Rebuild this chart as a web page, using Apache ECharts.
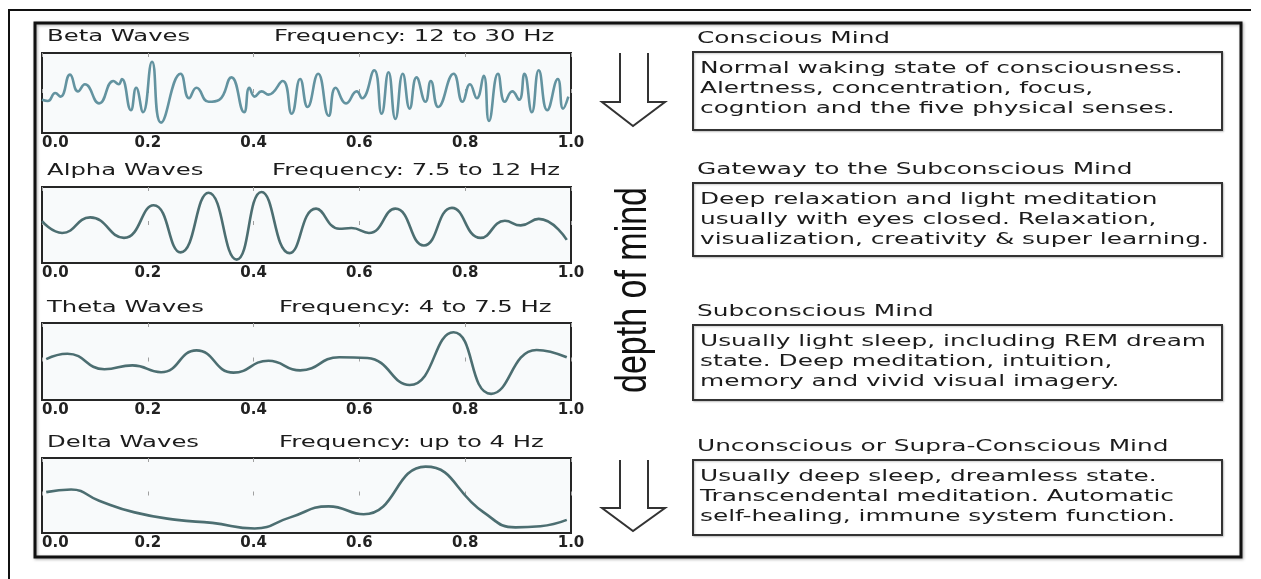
<!DOCTYPE html>
<html><head><meta charset="utf-8">
<script src="https://cdn.jsdelivr.net/npm/echarts@6/dist/echarts.min.js"></script>
<style>html,body{margin:0;padding:0;background:#fff}#c{width:1261px;height:579px}</style>
</head><body><div id="c"></div>
<script>
// ---- data ----
const xTickLabels = ['0.0', '0.2', '0.4', '0.6', '0.8', '1.0'];
const waveNames = ['Beta Waves', 'Alpha Waves', 'Theta Waves', 'Delta Waves'];
const waveFrequencies = ['Frequency: 12 to 30 Hz', 'Frequency: 7.5 to 12 Hz', 'Frequency: 4 to 7.5 Hz', 'Frequency: up to 4 Hz'];
const mindTitles = ['Conscious Mind', 'Gateway to the Subconscious Mind', 'Subconscious Mind', 'Unconscious or Supra-Conscious Mind'];
const mindDescriptions = [
  ['Normal waking state of consciousness.', 'Alertness, concentration, focus,', 'cogntion and the five physical senses.'],
  ['Deep relaxation and light meditation', 'usually with eyes closed. Relaxation,', 'visualization, creativity & super learning.'],
  ['Usually light sleep, including REM dream', 'state. Deep meditation, intuition,', 'memory and vivid visual imagery.'],
  ['Usually deep sleep, dreamless state.', 'Transcendental meditation. Automatic', 'self-healing, immune system function.']
];
const sideLabel = 'depth of mind';

const betaWave = [
  [0.000,-0.17],[0.011,-0.20],[0.025,0.00],[0.035,-0.09],[0.053,0.46],[0.068,0.04],[0.081,0.22],
  [0.108,-0.26],[0.135,0.30],[0.145,0.22],[0.151,0.35],[0.168,-0.43],[0.178,0.13],[0.191,-0.48],
  [0.208,0.78],[0.225,-0.74],[0.262,0.48],[0.278,-0.13],[0.292,0.13],[0.315,-0.22],[0.335,-0.17],
  [0.358,0.39],[0.382,-0.48],[0.392,0.13],[0.402,-0.09],[0.415,0.04],[0.428,-0.04],[0.455,0.30],
  [0.472,-0.52],[0.488,0.35],[0.502,-0.35],[0.522,0.48],[0.542,-0.57],[0.555,0.13],[0.575,-0.26],
  [0.595,0.04],[0.605,-0.13],[0.628,0.57],[0.642,-0.52],[0.655,0.52],[0.668,-0.65],[0.682,0.48],
  [0.695,-0.39],[0.708,0.39],[0.725,-0.22],[0.735,0.30],[0.749,-0.35],[0.778,0.48],[0.795,-0.22],
  [0.809,0.22],[0.822,-0.13],[0.835,0.43],[0.845,-0.70],[0.862,0.48],[0.875,-0.22],[0.889,0.04],
  [0.902,-0.17],[0.912,0.48],[0.926,-0.48],[0.939,0.57],[0.955,-0.43],[0.975,0.35],[0.985,-0.39],
  [0.995,-0.09]
];
const alphaWave = [
  [0.000,0.10],[0.038,-0.21],[0.091,0.20],[0.155,-0.34],[0.211,0.52],[0.262,-0.72],[0.315,0.85],
  [0.368,-0.91],[0.415,0.87],[0.468,-0.74],[0.518,0.43],[0.562,-0.10],[0.585,-0.08],[0.618,-0.21],
  [0.668,0.43],[0.722,-0.54],[0.775,0.45],[0.829,-0.34],[0.875,0.11],[0.905,-0.01],[0.939,0.16],
  [0.992,-0.39]
];
const thetaWave = [
  [0.008,0.06],[0.048,0.20],[0.118,-0.20],[0.171,-0.10],[0.225,-0.28],[0.292,0.29],[0.362,-0.29],
  [0.428,0.02],[0.488,-0.23],[0.562,0.11],[0.615,0.09],[0.695,-0.61],[0.778,0.76],[0.849,-0.84],
  [0.935,0.30],[0.992,0.11]
];
const deltaWave = [
  [0.008,0.09],[0.055,0.16],[0.108,-0.14],[0.175,-0.45],[0.255,-0.65],[0.322,-0.73],[0.402,-0.88],
  [0.468,-0.59],[0.542,-0.29],[0.608,-0.50],[0.725,0.77],[0.835,-0.45],
  [0.895,-0.85],[0.942,-0.82],[0.992,-0.65]
];
const waves = [betaWave, alphaWave, thetaWave, deltaWave];

// ---- layout ----
const plotBoxes = [ {top:53, h:80}, {top:187, h:76}, {top:323, h:77}, {top:458, h:75} ];
const titleY = [37, 171, 308, 443];
const freqX = [274, 272, 279, 279];
const textBoxes = [ {top:52, h:78}, {top:183, h:73}, {top:325, h:75}, {top:460, h:75} ];
const lineColors = ['#6393a0', '#4c6e71', '#4c6e71', '#4c6e71'];
const SX = 1.52, SXR = 1.55;
const FONT = 'DejaVu Sans, Verdana, sans-serif';
const TXT = '#1c1c1c';

const grids = [], xAxes = [], yAxes = [], series = [];
plotBoxes.forEach((b, i) => {
  grids.push({left:42, top:b.top, width:529, height:b.h, show:true, borderColor:'#262626', borderWidth:2, backgroundColor:'#f8fafb'});
  yAxes.push({gridIndex:i, type:'value', min:-1, max:1, show:false});
});
plotBoxes.forEach((b, i) => {
  xAxes.push({gridIndex:i, type:'value', min:0, max:1, interval:0.2, position:'bottom',
    axisLine:{show:false}, splitLine:{show:false},
    axisTick:{show:true, inside:true, length:4, lineStyle:{color:'#a0a0a0', width:1}},
    axisLabel:{margin:3, fontSize:15, fontWeight:'bold', color:'#222', fontFamily:FONT, alignMinLabel:'left',
      formatter:(v)=>xTickLabels[Math.round(v/0.2)]}});
});
plotBoxes.forEach((b, i) => {
  xAxes.push({gridIndex:i, type:'value', min:0, max:1, interval:0.2, position:'top',
    axisLine:{show:false}, splitLine:{show:false}, axisLabel:{show:false},
    axisTick:{show:true, inside:true, length:4, lineStyle:{color:'#a0a0a0', width:1}}});
});
waves.forEach((w, i) => {
  series.push({type:'line', name:waveNames[i], xAxisIndex:i, yAxisIndex:i, data:w, smooth:0.5,
    showSymbol:false, symbol:'none', silent:true, lineStyle:{color:lineColors[i], width:2.6}});
});

const graphic = [];
graphic.push({type:'polyline', shape:{points:[[9,579],[9,10],[1251,10]]}, style:{stroke:'#111', lineWidth:2, fill:null}});
graphic.push({type:'rect', shape:{x:35, y:23, width:1206, height:534}, style:{stroke:'#111', lineWidth:3, fill:null, shadowBlur:3, shadowColor:'rgba(0,0,0,0.35)', shadowOffsetX:1, shadowOffsetY:1}});
waveNames.forEach((t, i) => {
  graphic.push({type:'text', x:47, y:titleY[i], scaleX:SX, style:{text:t, fontSize:16, fontFamily:FONT, fill:TXT, align:'left', verticalAlign:'middle'}});
  graphic.push({type:'text', x:freqX[i], y:titleY[i], scaleX:SX, style:{text:waveFrequencies[i], fontSize:16, fontFamily:FONT, fill:TXT, align:'left', verticalAlign:'middle'}});
});
mindTitles.forEach((t, i) => {
  const b = textBoxes[i];
  graphic.push({type:'text', x:697, y:b.top - 13, scaleX:SXR, style:{text:t, fontSize:16, fontFamily:FONT, fill:TXT, align:'left', verticalAlign:'middle'}});
  graphic.push({type:'rect', shape:{x:693, y:b.top, width:529, height:b.h}, style:{stroke:'#333', lineWidth:2, fill:'#fff', shadowBlur:2, shadowColor:'rgba(0,0,0,0.2)', shadowOffsetX:1, shadowOffsetY:1}});
  graphic.push({type:'text', x:700, y:b.top + 7, scaleX:SXR, style:{text:mindDescriptions[i].join('\n'), fontSize:16, lineHeight:20, fontFamily:FONT, fill:TXT, align:'left', verticalAlign:'top'}});
});
graphic.push({type:'polyline', shape:{points:[[620,53],[620,102],[602,102],[633,126],[665,102],[648,102],[648,53]]}, style:{stroke:'#333', lineWidth:2, fill:null}});
graphic.push({type:'polyline', shape:{points:[[620,460],[620,508],[602,508],[633,531],[665,508],[648,508],[648,460]]}, style:{stroke:'#333', lineWidth:2, fill:null}});
graphic.push({type:'text', x:634, y:290, rotation:Math.PI/2, scaleY:1.3, style:{text:sideLabel, fontSize:34, fontFamily:'Liberation Sans, Arial, sans-serif', fill:'#111', align:'center', verticalAlign:'middle'}});

const chart = echarts.init(document.getElementById('c'), null, {renderer:'canvas'});
chart.setOption({animation:false, backgroundColor:'#fff', grid:grids, xAxis:xAxes, yAxis:yAxes, series:series, graphic:graphic});
</script></body></html>
